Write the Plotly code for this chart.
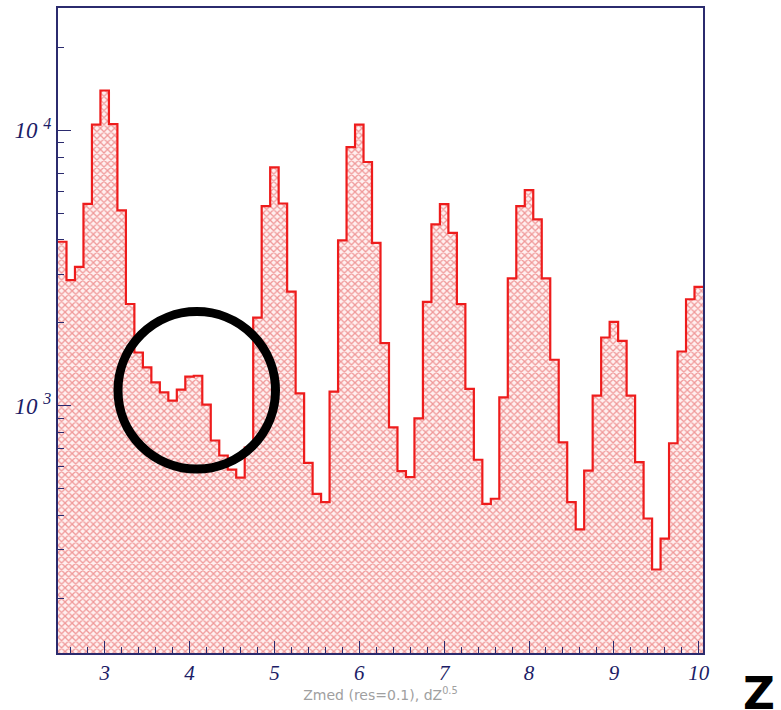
import plotly.graph_objects as go

# Bin centres (res = 0.1) and counts
z_centers = [round(2.5 + 0.1 * i, 1) for i in range(76)]
counts = [
    3940, 2860, 3190, 5410, 10490, 13960, 10540, 5120, 2340, 1560,   # 2.5 - 3.4
    1377, 1215, 1117, 1043, 1143, 1274, 1284, 1008, 747, 659,        # 3.5 - 4.4
    586, 548, 704, 2089, 5303, 7341, 5425, 2595, 1108, 620,          # 4.5 - 5.4
    478, 446, 1124, 3985, 8700, 10490, 7677, 3905, 1688, 834,        # 5.5 - 6.4
    578, 550, 899, 2381, 4553, 5394, 4246, 2336, 1150, 636,          # 6.5 - 7.4
    440, 459, 1072, 2902, 5303, 6062, 4747, 2902, 1468, 736,         # 7.5 - 8.4
    446, 355, 581, 1087, 1768, 2015, 1720, 1087, 623, 389,           # 8.5 - 9.4
    254, 329, 730, 1573, 2435, 2699,                                  # 9.5 - 10.0
]
bin_width = 0.1
x_ticks = [3, 4, 5, 6, 7, 8, 9, 10]
y_ticks = [1000, 10000]
y_tick_text = ["10 <sup>3</sup>", "10 <sup>4</sup>"]
y_minor = [200, 300, 400, 500, 600, 700, 800, 900,
           2000, 3000, 4000, 5000, 6000, 7000, 8000, 9000, 20000]

NAVY = "#2b2b6e"
LABEL = "#1c1c66"
RED = "#ee1c1c"

# outline as a step line through bin edges
edges = [c - bin_width / 2 for c in z_centers] + [z_centers[-1] + bin_width / 2]
step_y = counts + [counts[-1]]

fig = go.Figure()
fig.add_trace(go.Bar(
    x=z_centers, y=counts, width=bin_width,
    marker=dict(color="white", line=dict(width=0),
                pattern=dict(shape="x", fgcolor="#e04040", bgcolor="#fff0f0",
                             size=5, solidity=0.45)),
    showlegend=False, hoverinfo="skip",
))
fig.add_trace(go.Scatter(
    x=edges, y=step_y, mode="lines", line=dict(color=RED, width=2.2, shape="hv"),
    showlegend=False, hoverinfo="skip",
))

fig.update_layout(
    width=781, height=710,
    margin=dict(l=58, r=78, t=6, b=57),
    paper_bgcolor="white", plot_bgcolor="white",
    bargap=0,
    xaxis=dict(
        range=[2.45, 10.05], tickvals=x_ticks, ticks="inside", ticklen=12,
        tickcolor=NAVY, tickwidth=1, showline=True, linecolor=NAVY, linewidth=2,
        mirror=True, showgrid=False, zeroline=False,
        tickfont=dict(family="Liberation Serif", size=21, color=LABEL, style="italic"),
        minor=dict(dtick=0.2, ticks="inside", ticklen=6, tickcolor=NAVY, showgrid=False),
        title=dict(text="Zmed (res=0.1), dZ<sup style='font-size:7px'>0.5</sup>",
                   font=dict(family="DejaVu Sans", size=14, color="#a0a0a0"), standoff=6),
    ),
    yaxis=dict(
        type="log", range=[2.1014, 4.4446], tickvals=y_ticks, ticktext=y_tick_text,
        ticks="inside", ticklen=13, tickcolor=NAVY, tickwidth=1,
        showline=True, linecolor=NAVY, linewidth=2, mirror=True,
        showgrid=False, zeroline=False,
        tickfont=dict(family="Liberation Serif", size=23, color=LABEL, style="italic"),
        minor=dict(tickvals=y_minor, ticks="inside", ticklen=6, tickcolor=NAVY, showgrid=False),
    ),
    shapes=[dict(type="circle", xref="paper", yref="paper",
                 x0=0.093, x1=0.3372, y0=0.2852, y1=0.5294,
                 line=dict(color="black", width=9))],
    annotations=[dict(text="Z", xref="paper", yref="paper",
                      x=1.087, y=-0.062, xanchor="center", yanchor="middle",
                      showarrow=False, height=34,
                      font=dict(family="DejaVu Sans", size=44, color="black",
                                weight="bold", style="normal"))],
)

fig.write_html("out.html", config={"displayModeBar": False},
               post_script="document.body.style.margin='0';document.body.style.padding='0';")
